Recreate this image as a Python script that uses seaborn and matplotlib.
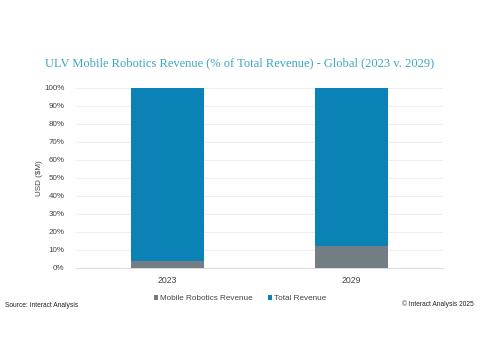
import pandas as pd
import seaborn as sns
import matplotlib.pyplot as plt
from matplotlib.ticker import PercentFormatter

years = ['2023', '2029']
mobile = [4, 12]            # Mobile Robotics Revenue, % of total
total = [100, 100]          # Total Revenue (full bar)
series = ['Mobile Robotics Revenue', 'Total Revenue']
colors = ['#737d84', '#0a82b5']

sns.set_theme(style='white')
plt.rcParams['font.family'] = ['Liberation Sans', 'DejaVu Sans']

df = pd.DataFrame({'year': years, 'mobile': mobile, 'total': total})

fig = plt.figure(figsize=(4.8, 3.6), dpi=100)
ax = fig.add_axes([0.158, 0.256, 0.765, 0.5])

# full bar in blue, then the mobile share drawn over it in grey
sns.barplot(data=df, x='year', y='total', color=colors[1], width=0.4,
            saturation=1, linewidth=0, ax=ax, label=series[1], zorder=2)
sns.barplot(data=df, x='year', y='mobile', color=colors[0], width=0.4,
            saturation=1, linewidth=0, ax=ax, label=series[0], zorder=3)

ax.set_ylim(0, 100)
ax.set_yticks(range(0, 101, 10))
ax.yaxis.set_major_formatter(PercentFormatter(decimals=0))
ax.grid(axis='y', color='#eeeeee', linewidth=0.8, zorder=0)
ax.set_axisbelow(True)
for s in ['top', 'right', 'left']:
    ax.spines[s].set_visible(False)
ax.spines['bottom'].set_color('#dddddd')
ax.spines['bottom'].set_linewidth(0.8)
ax.tick_params(axis='y', length=0, labelsize=5.8, colors='#444444', pad=8)
ax.tick_params(axis='x', length=0, labelsize=6.2, colors='#444444', pad=6)
ax.set_xlabel('')
ax.set_ylabel('USD ($M)', fontsize=5.8, color='#444444')
ax.yaxis.set_label_coords(-0.09, 0.5)

h, l = ax.get_legend_handles_labels()
if ax.get_legend() is not None:
    ax.get_legend().remove()
order = [l.index(series[0]), l.index(series[1])]
fig.legend([h[i] for i in order], [l[i] for i in order], loc='center',
           bbox_to_anchor=(0.5, 0.171), ncol=2, frameon=False, fontsize=5.9,
           handlelength=0.55, handleheight=0.55, handletextpad=0.25,
           columnspacing=1.8, labelcolor='#444444')

fig.text(0.5, 0.825, 'ULV Mobile Robotics Revenue (% of Total Revenue) - Global (2023 v. 2029)',
         ha='center', va='center', fontsize=9.0, color='#3aa7c2',
         family=['Liberation Serif', 'DejaVu Serif'])
fig.text(0.011, 0.152, 'Source: Interact Analysis', fontsize=4.8, color='#222222', va='center')
fig.text(0.986, 0.155, '\u00a9 Interact Analysis 2025', fontsize=4.8, color='#222222',
         va='center', ha='right')

fig.savefig('out.png', dpi=100)
